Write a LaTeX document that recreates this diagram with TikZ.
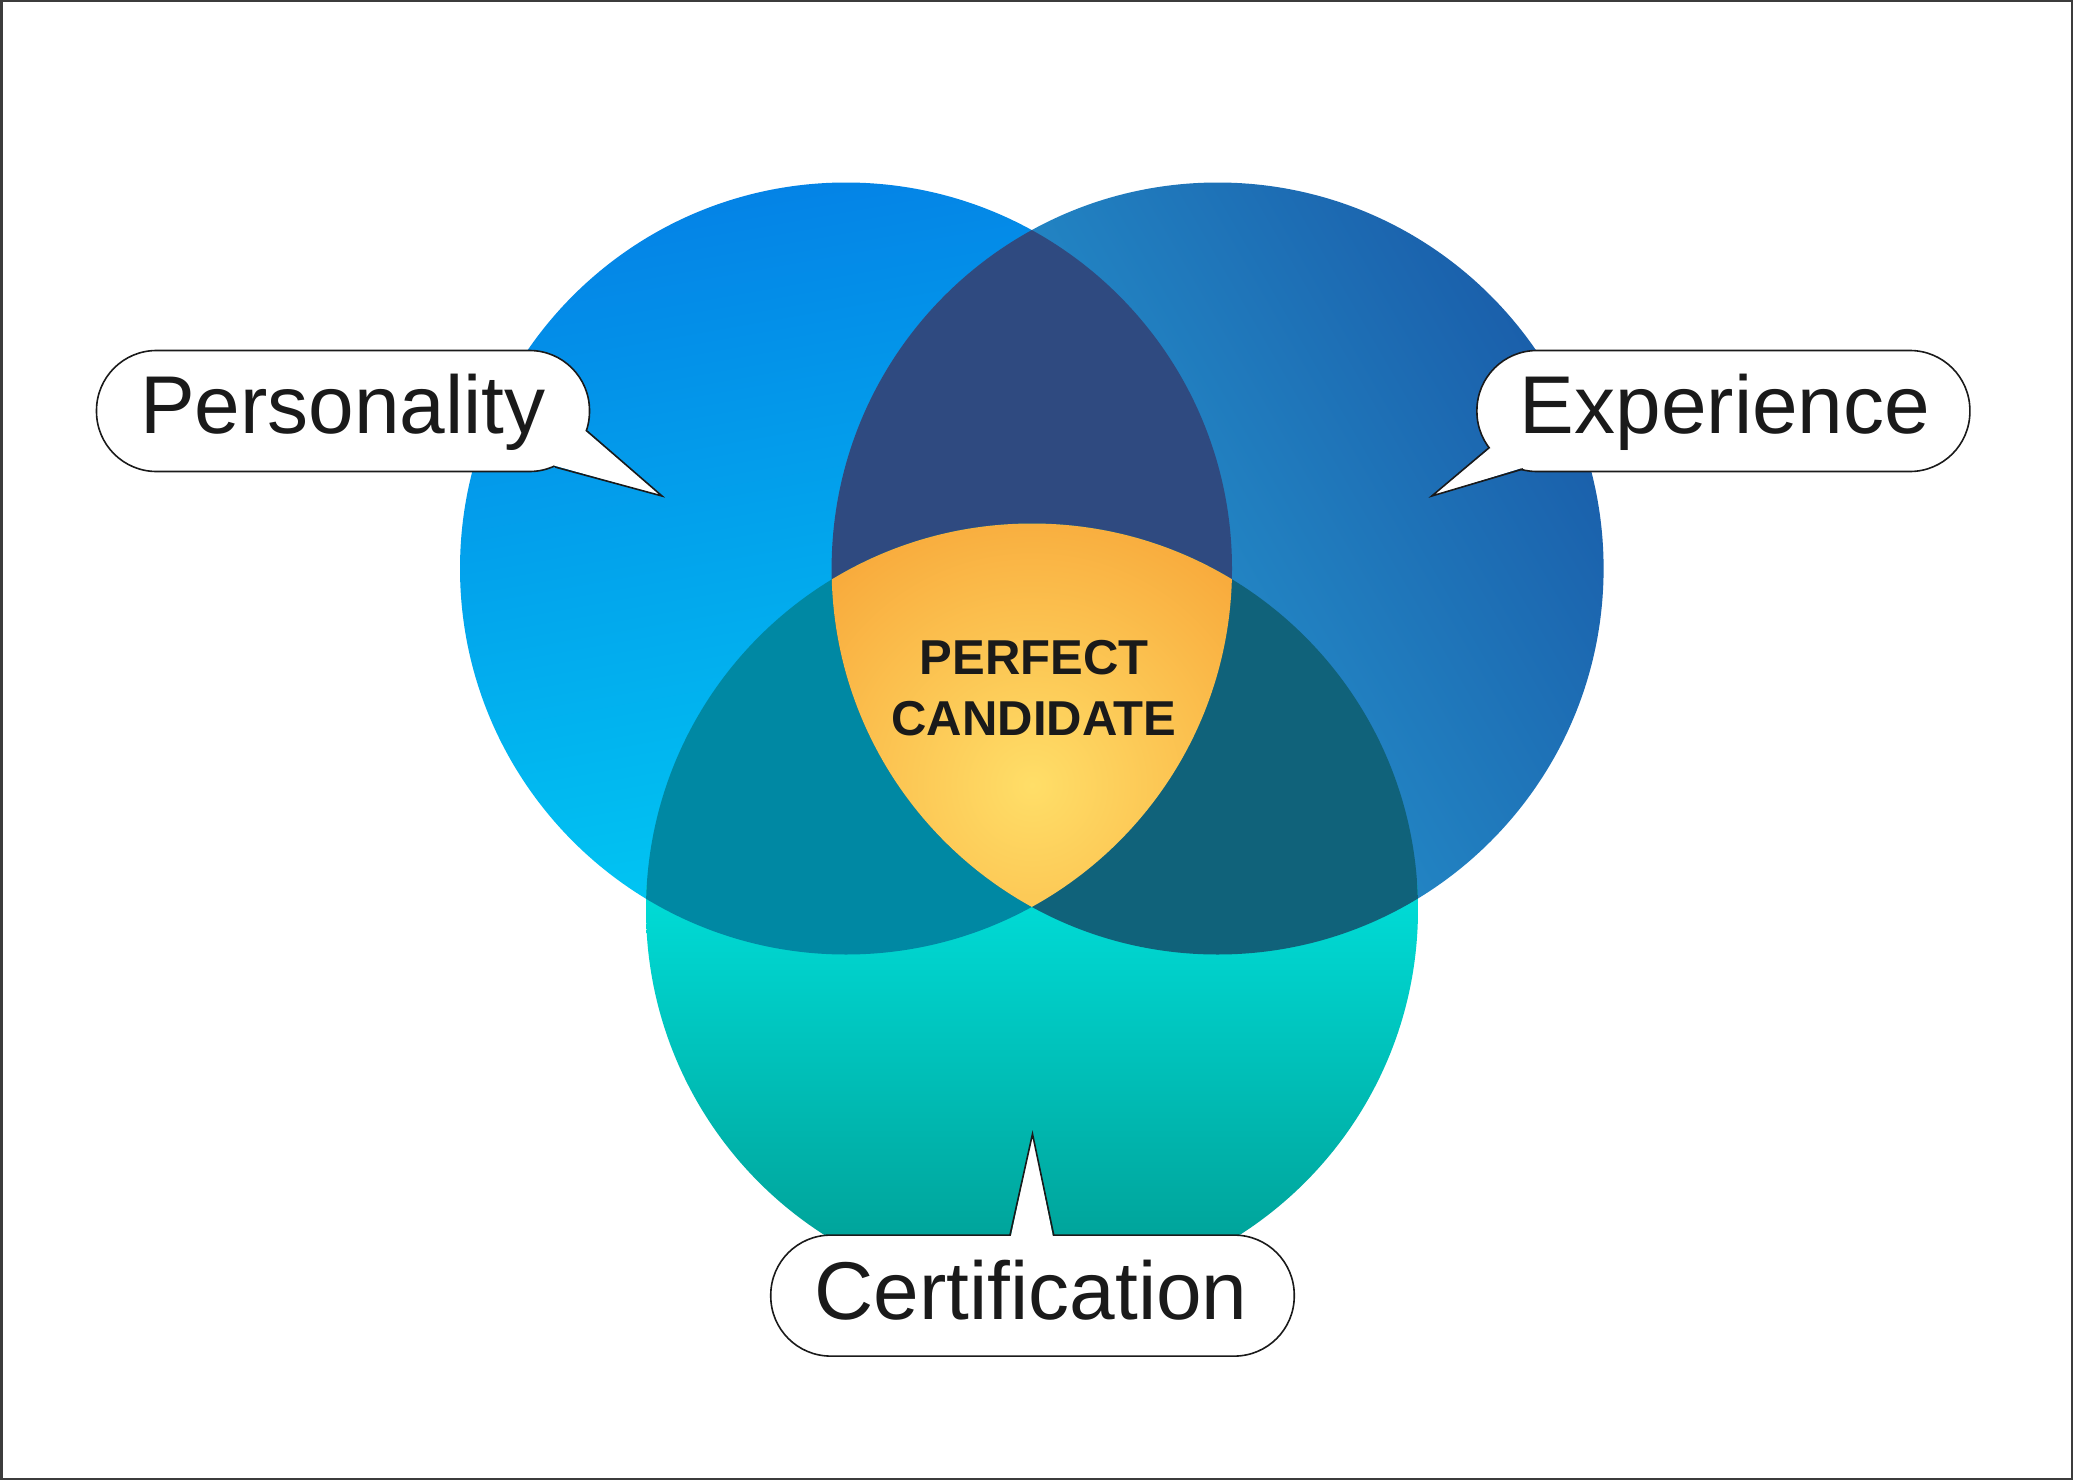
\documentclass[tikz,border=0pt]{standalone}
\usepackage{fontspec}
\setmainfont{Liberation Sans}
\definecolor{lTop}{HTML}{0482E6}
\definecolor{lBot}{HTML}{00CEF4}
\definecolor{rDark}{HTML}{1A5EAA}
\definecolor{rLight}{HTML}{2AAADC}
\definecolor{bTop}{HTML}{00DED9}
\definecolor{bBot}{HTML}{009A90}
\definecolor{lrCol}{HTML}{2F4A80}
\definecolor{lbCol}{HTML}{0088A3}
\definecolor{rbCol}{HTML}{10627A}
\definecolor{candIn}{HTML}{FFDE68}
\definecolor{candOut}{HTML}{F69A2E}
\definecolor{inkCol}{HTML}{1A1A1A}
\tikzset{
  pill/.style={draw=inkCol, fill=white, line width=1.6pt, rounded corners=60pt, minimum height=121pt, inner sep=0pt},
  tailedge/.style={draw=inkCol, line width=1.6pt, line join=miter},
  lbl/.style={font=\fontsize{82}{90}\selectfont, text=inkCol, inner sep=0pt, anchor=base},
  cand/.style={font=\fontsize{49}{55}\selectfont\bfseries, text=inkCol, inner sep=0pt, anchor=base}
}
\begin{document}
\begin{tikzpicture}[x=1pt,y=-1pt]
\useasboundingbox (0,0) rectangle (2073,1480);
\fill[white] (0,0) rectangle (2073,1480);
\coordinate (L) at (846,568.5);
\coordinate (R) at (1217.6,568.5);
\coordinate (B) at (1032,909.5);
% circles
\begin{scope}
  \clip (L) circle (386pt);
  \shade[top color=lTop, bottom color=lBot, shading angle=10] (440,170) rectangle (1250,960);
\end{scope}
\begin{scope}
  \clip (R) circle (386pt);
  \shade[top color=rDark, bottom color=rLight, shading angle=-60] (820,170) rectangle (1620,960);
\end{scope}
\begin{scope}
  \clip (B) circle (386pt);
  \shade[top color=bTop, bottom color=bBot] (640,880) rectangle (1430,1300);
\end{scope}
% pairwise overlaps
\begin{scope}
  \clip (L) circle (386pt);
  \fill[lrCol] (R) circle (386pt);
\end{scope}
\begin{scope}
  \clip (L) circle (386pt);
  \fill[lbCol] (B) circle (386pt);
\end{scope}
\begin{scope}
  \clip (R) circle (386pt);
  \fill[rbCol] (B) circle (386pt);
\end{scope}
% triple overlap
\begin{scope}
  \clip (L) circle (386pt);
  \clip (R) circle (386pt);
  \clip (B) circle (386pt);
  \shade[inner color=candIn, outer color=candOut] (1032,785) circle (380pt);
\end{scope}
\node[cand] (perfect) at (1034,674) {PERFECT};
\node[cand] (candidate) at (1034,735) {CANDIDATE};
% Personality callout
\node[pill, minimum width=493pt] (pers) at (343,411) {};
\coordinate (pTip) at (662,496);
\fill[white] (585.5,431) -- (pTip) -- (554,465.5) -- cycle;
\path[tailedge] (587,431) -- (pTip) -- (555,467);
\node[lbl] (persT) at (343,433.6) {Personality};
% Experience callout
\node[pill, minimum width=493pt] (exp) at (1723.4,411) {};
\coordinate (eTip) at (1431.8,496);
\fill[white] (1490.2,448) -- (eTip) -- (1523.5,467.5) -- cycle;
\path[tailedge] (1488.7,448) -- (eTip) -- (1523,469);
\node[lbl] (expT) at (1725,433.6) {Experience};
% Certification callout
\node[pill, minimum width=523.5pt] (cert) at (1032.5,1295.6) {};
\coordinate (cTip) at (1032.5,1134);
\fill[white] (1010.5,1238) -- (cTip) -- (1053.2,1238) -- cycle;
\path[tailedge] (1010,1235) -- (cTip) -- (1053.7,1235);
\node[lbl] (certT) at (1031,1319.5) {Certification};
% frame
\draw[line width=2.5pt, draw=inkCol!85] (1.25,1.25) rectangle (2071.75,1478.75);
\end{tikzpicture}
\end{document}
